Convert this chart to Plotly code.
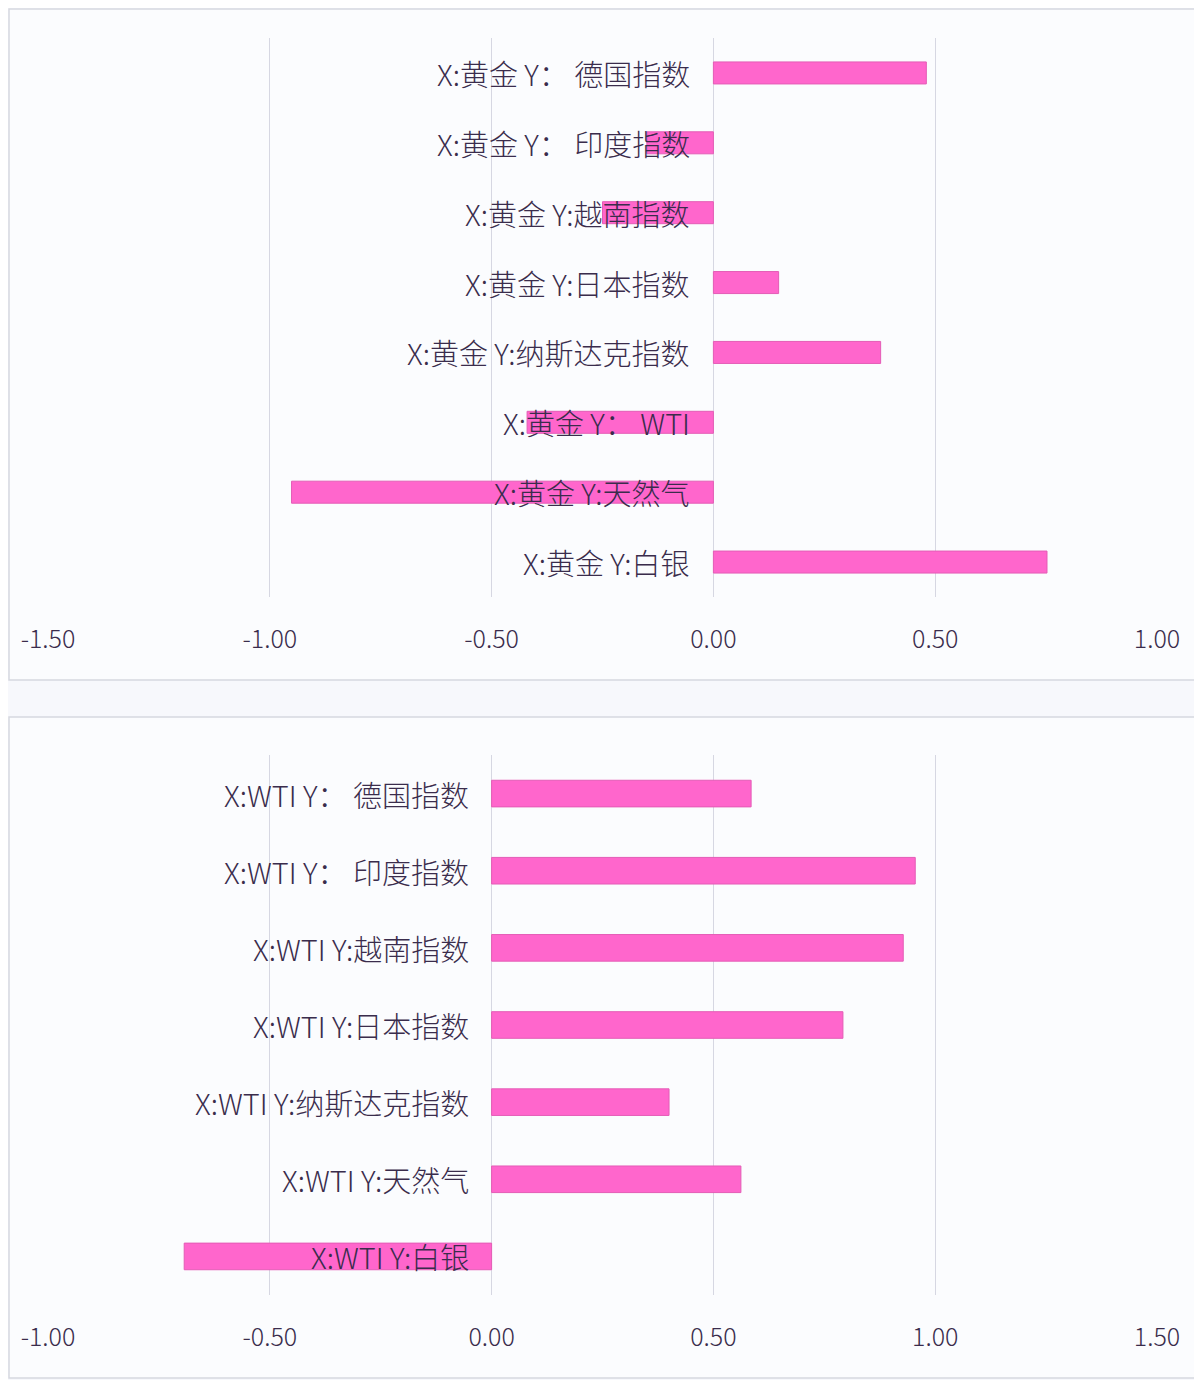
import plotly.graph_objects as go

# panel 1: X = 黄金
gold_labels = [
    "X:黄金 Y： 德国指数",
    "X:黄金 Y： 印度指数",
    "X:黄金 Y:越南指数",
    "X:黄金 Y:日本指数",
    "X:黄金 Y:纳斯达克指数",
    "X:黄金 Y： WTI",
    "X:黄金 Y:天然气",
    "X:黄金 Y:白银",
]
gold_values = [0.48, -0.15, -0.25, 0.147, 0.377, -0.42, -0.951, 0.752]
gold_ticks = [-1.5, -1.0, -0.5, 0.0, 0.5, 1.0]

# panel 2: X = WTI
wti_labels = [
    "X:WTI Y： 德国指数",
    "X:WTI Y： 印度指数",
    "X:WTI Y:越南指数",
    "X:WTI Y:日本指数",
    "X:WTI Y:纳斯达克指数",
    "X:WTI Y:天然气",
    "X:WTI Y:白银",
]
wti_values = [0.585, 0.955, 0.928, 0.792, 0.40, 0.562, -0.693]
wti_ticks = [-1.0, -0.5, 0.0, 0.5, 1.0, 1.5]

W, H = 1202, 1380
OFF = 8  # page body margin, positions below are measured on the page
FONT = "Noto Sans CJK SC"
TXT = "#3a2c4c"
GRID = "#d6d7e2"
PINK = "#ff66cc"


def fx(px):
    return (px - OFF) / W


def fy(px):
    return 1 - (px - OFF) / H


fig = go.Figure()
fig.add_trace(go.Bar(
    x=gold_values, y=gold_labels, orientation="h", width=0.315,
    marker=dict(color=PINK, line=dict(color="#e45cb6", width=1)),
    xaxis="x", yaxis="y", hoverinfo="x+y",
))
fig.add_trace(go.Bar(
    x=wti_values, y=wti_labels, orientation="h", width=0.345,
    marker=dict(color=PINK, line=dict(color="#e45cb6", width=1)),
    xaxis="x2", yaxis="y2", hoverinfo="x+y",
))

annotations = []
for lab in gold_labels:
    annotations.append(dict(x=0, y=lab, xref="x", yref="y", text=lab, showarrow=False,
                            xanchor="right", xshift=-21,
                            font=dict(size=29, color=TXT, family=FONT, weight=300)))
for lab in wti_labels:
    annotations.append(dict(x=0, y=lab, xref="x2", yref="y2", text=lab, showarrow=False,
                            xanchor="right", xshift=-21,
                            font=dict(size=29, color=TXT, family=FONT, weight=300)))

axis_common = dict(
    showgrid=True, gridcolor=GRID, gridwidth=1,
    zeroline=True, zerolinecolor=GRID, zerolinewidth=1,
    showline=False, ticks="", automargin=False,
    tickfont=dict(size=25, color=TXT, family=FONT, weight=300),
    ticklabelstandoff=25, fixedrange=True,
)
cat_common = dict(showgrid=False, showticklabels=False, zeroline=False, showline=False,
                  autorange="reversed", fixedrange=True, automargin=False)

fig.update_layout(
    width=W, height=H,
    margin=dict(l=0, r=0, t=0, b=0, pad=0),
    paper_bgcolor="#f7f8fc",
    plot_bgcolor="rgba(0,0,0,0)",
    showlegend=False,
    xaxis=dict(domain=[fx(48), fx(1157)], range=[-1.5, 1.0], tickvals=gold_ticks,
               ticktext=[f"{v:.2f}" for v in gold_ticks], anchor="y", **axis_common),
    yaxis=dict(domain=[fy(597), fy(38)], anchor="x", categoryorder="array",
               categoryarray=gold_labels, **cat_common),
    xaxis2=dict(domain=[fx(48), fx(1157)], range=[-1.0, 1.5], tickvals=wti_ticks,
                ticktext=[f"{v:.2f}" for v in wti_ticks], anchor="y2", **axis_common),
    yaxis2=dict(domain=[fy(1295), fy(755)], anchor="x2", categoryorder="array",
                categoryarray=wti_labels, **cat_common),
    annotations=annotations,
    shapes=[
        dict(type="rect", xref="paper", yref="paper", x0=1 / W, x1=fx(1199), y0=fy(680),
             y1=1 - 1 / H, fillcolor="#fbfcfe", line=dict(color="#d6d8e0", width=1.5),
             layer="below"),
        dict(type="rect", xref="paper", yref="paper", x0=1 / W, x1=fx(1200), y0=fy(1378),
             y1=fy(717), fillcolor="#fbfcfe", line=dict(color="#d6d8e0", width=1.5),
             layer="below"),
    ],
)

fig.write_html("out.html")
